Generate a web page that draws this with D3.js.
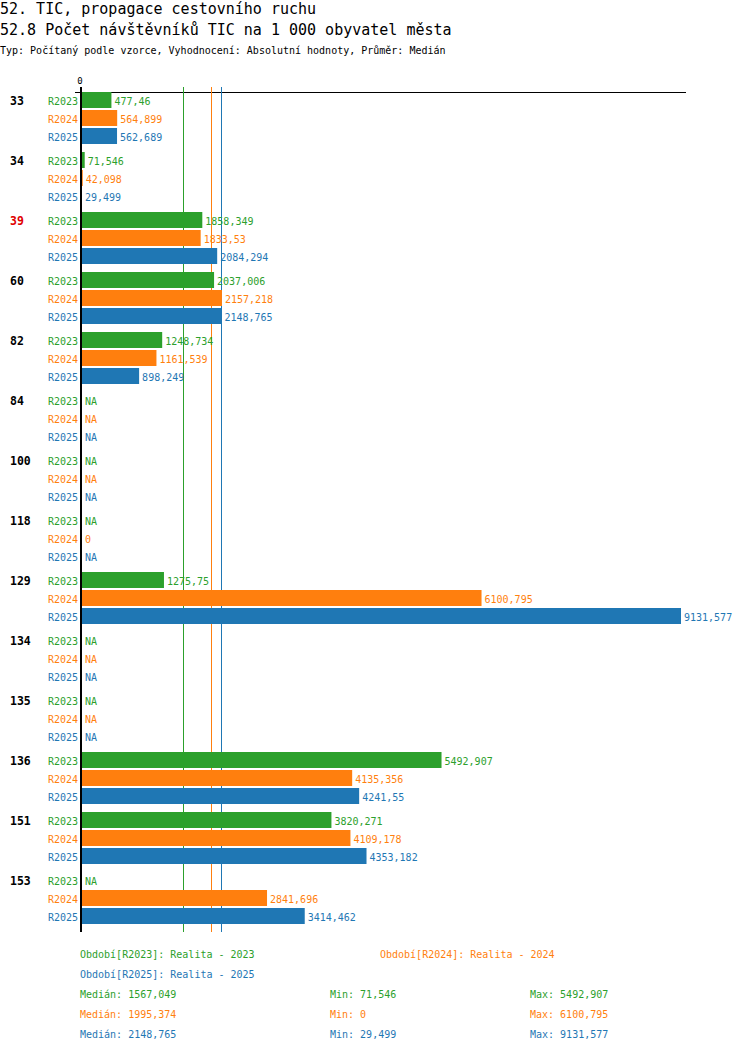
<!DOCTYPE html>
<html>
<head>
<meta charset="utf-8">
<script src="https://cdn.jsdelivr.net/npm/d3@7"></script>
<style>
  body { margin: 0; background: #fff; }
  svg text { font-family: "DejaVu Sans Mono", monospace; }
</style>
</head>
<body>
<div id="chart"></div>
<script>
// data
var groups = ["33", "34", "39", "60", "82", "84", "100", "118", "129", "134", "135", "136", "151", "153"];
var series = ["R2023", "R2024", "R2025"];
var seriesNames = ["Realita - 2023", "Realita - 2024", "Realita - 2025"];
var values2023 = [477.46, 71.546, 1858.349, 2037.006, 1248.734, null, null, null, 1275.75, null, null, 5492.907, 3820.271, null];
var values2024 = [564.899, 42.098, 1833.53, 2157.218, 1161.539, null, null, 0, 6100.795, null, null, 4135.356, 4109.178, 2841.696];
var values2025 = [562.689, 29.499, 2084.294, 2148.765, 898.249, null, null, null, 9131.577, null, null, 4241.55, 4353.182, 3414.462];
var medians = [1567.049, 1995.374, 2148.765];
var mins = [71.546, 0, 29.499];
var maxs = [5492.907, 6100.795, 9131.577];
var highlighted = ["39"];

var colors = ["#2ca02c", "#ff7f0e", "#1f77b4"];
var allValues = [values2023, values2024, values2025];

var width = 750, height = 1052;

function fmt(v) { return String(v).replace(".", ","); }

var svg = d3.select("#chart").append("svg")
    .attr("width", width)
    .attr("height", height);

// titles
svg.append("text").attr("x", 0).attr("y", 14)
    .attr("font-size", 15)
    .text("52. TIC, propagace cestovního ruchu");
svg.append("text").attr("x", 0).attr("y", 35)
    .attr("font-size", 15)
    .text("52.8 Počet návštěvníků TIC na 1 000 obyvatel města");
svg.append("text").attr("x", 0).attr("y", 54)
    .attr("font-size", 10)
    .text("Typ: Počítaný podle vzorce, Vyhodnocení: Absolutní hodnoty, Průměr: Medián");

// scales
var x = d3.scaleLinear().domain([0, d3.max(maxs)]).range([80, 681]);
var yGroup = d3.scaleBand().domain(groups).range([92, 932]);
var ySeries = d3.scaleBand().domain(series).range([0, 54]);

// top axis line + zero tick
svg.append("rect")
    .attr("x", 75).attr("y", 92)
    .attr("width", 611).attr("height", 1)
    .attr("fill", "#000");
svg.append("text")
    .attr("x", x(0)).attr("y", 84)
    .attr("text-anchor", "middle")
    .attr("font-size", 9)
    .text("0");

// median lines (behind the bars)
svg.selectAll(".median")
    .data(medians)
    .enter().append("rect")
    .attr("class", "median")
    .attr("x", function(d) { return Math.floor(x(d)); })
    .attr("y", 87)
    .attr("width", 1)
    .attr("height", 845)
    .attr("fill", function(d, i) { return colors[i]; });

// rows
var rows = [];
groups.forEach(function(g, i) {
    series.forEach(function(s, j) {
        rows.push({ group: g, series: s, si: j, value: allValues[j][i] });
    });
});

svg.selectAll(".bar")
    .data(rows.filter(function(d) { return d.value != null; }))
    .enter().append("rect")
    .attr("class", "bar")
    .attr("x", x(0))
    .attr("y", function(d) { return yGroup(d.group) + ySeries(d.series); })
    .attr("width", function(d) { return x(d.value) - x(0); })
    .attr("height", ySeries.bandwidth() - 2)
    .attr("fill", function(d) { return colors[d.si]; });

// zero axis
svg.append("rect")
    .attr("x", 80).attr("y", 87)
    .attr("width", 2).attr("height", 845)
    .attr("fill", "#000");

// value labels
svg.selectAll(".val")
    .data(rows)
    .enter().append("text")
    .attr("class", "val")
    .attr("x", function(d) { return Math.max(x(d.value || 0), 82) + 3; })
    .attr("y", function(d) { return yGroup(d.group) + ySeries(d.series) + 12.5; })
    .attr("font-size", 10)
    .attr("fill", function(d) { return colors[d.si]; })
    .text(function(d) { return d.value == null ? "NA" : fmt(d.value); });

// series labels
svg.selectAll(".slab")
    .data(rows)
    .enter().append("text")
    .attr("class", "slab")
    .attr("x", 78)
    .attr("y", function(d) { return yGroup(d.group) + ySeries(d.series) + 12.5; })
    .attr("text-anchor", "end")
    .attr("font-size", 10)
    .attr("fill", function(d) { return colors[d.si]; })
    .text(function(d) { return d.series; });

// group labels
svg.selectAll(".glab")
    .data(groups)
    .enter().append("text")
    .attr("class", "glab")
    .attr("x", 10)
    .attr("y", function(d) { return yGroup(d) + 12.5; })
    .attr("font-size", 11.5)
    .attr("font-weight", "bold")
    .attr("fill", function(d) { return highlighted.indexOf(d) >= 0 ? "#e00000" : "#000"; })
    .text(function(d) { return d; });

// legend
var legendPos = [[80, 958], [380, 958], [80, 978]];
series.forEach(function(s, j) {
    svg.append("text")
        .attr("x", legendPos[j][0]).attr("y", legendPos[j][1])
        .attr("font-size", 10)
        .attr("fill", colors[j])
        .text("Období[" + s + "]: " + seriesNames[j]);
});

// stats
series.forEach(function(s, j) {
    var yy = 998 + j * 20;
    svg.append("text").attr("x", 80).attr("y", yy)
        .attr("font-size", 10).attr("fill", colors[j])
        .text("Medián: " + fmt(medians[j]));
    svg.append("text").attr("x", 330).attr("y", yy)
        .attr("font-size", 10).attr("fill", colors[j])
        .text("Min: " + fmt(mins[j]));
    svg.append("text").attr("x", 530).attr("y", yy)
        .attr("font-size", 10).attr("fill", colors[j])
        .text("Max: " + fmt(maxs[j]));
});
</script>
</body>
</html>
